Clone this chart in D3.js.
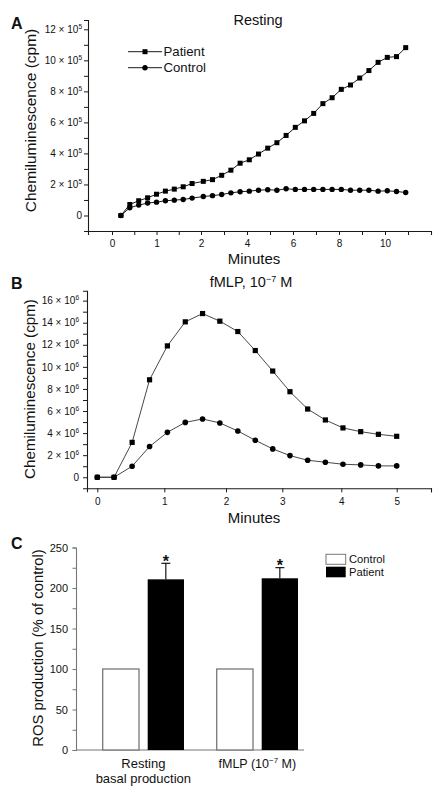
<!DOCTYPE html>
<html><head><meta charset="utf-8">
<script src="https://cdn.jsdelivr.net/npm/d3@7"></script>
<style>
body{margin:0;background:#fff}
svg{display:block}
text{font-family:"Liberation Sans",Arial,Helvetica,sans-serif;fill:#111}
</style>
</head><body>
<svg id="chart" width="443" height="795"></svg>
<script>
// ---------- Panel A: Resting (units of 10^5 cpm) ----------
const restTimes = [0.2,0.4,0.6,0.8,1.0,1.2,1.4,1.6,1.8,2.1,2.5,2.9,3.3,3.7,4.1,4.5,4.9,5.3,5.7,6.1,6.5,6.9,7.3,7.7,8.1,8.5,8.9,9.3,9.7,10.1,10.5,10.9];
const restPatient = [0,0.71,0.95,1.14,1.37,1.57,1.70,1.85,2.06,2.20,2.31,2.59,2.92,3.37,3.59,3.96,4.34,4.69,5.16,5.68,6.10,6.58,7.21,7.59,8.13,8.41,8.86,9.34,9.87,10.19,10.24,10.82];
const restControl = [0,0.50,0.67,0.80,0.86,0.95,0.99,1.03,1.12,1.22,1.28,1.35,1.46,1.53,1.57,1.63,1.66,1.63,1.72,1.68,1.68,1.68,1.68,1.68,1.68,1.63,1.63,1.63,1.57,1.59,1.55,1.48];
const restXTicks = [-0.5,0,0.5,1,1.5,2,3,4,5,6,7,8,9,10,11,12];
const restXLabels = [0,1,2,4,6,8,10];
const restYTicks = [1,2,3,4,5,6,7,8,9,10,11,12,0];
const restYLabels = [0,2,4,6,8,10,12];

// ---------- Panel B: fMLP (units of 10^6 cpm) ----------
const fmlpTimes = [0,0.25,0.52,0.78,1.05,1.34,1.62,1.90,2.21,2.52,2.83,3.13,3.43,3.73,4.03,4.35,4.67,5.0];
const fmlpPatient = [0,0,3.16,8.83,11.9,14.08,14.83,14.14,13.2,11.48,9.62,7.75,6.18,5.19,4.47,4.13,3.89,3.71];
const fmlpControl = [0,0,1.0,2.78,4.07,4.97,5.28,4.92,4.19,3.35,2.57,1.96,1.54,1.36,1.18,1.12,1.03,1.03];
const fmlpXTicks = [0,1,2,3,4,5,5.62];
const fmlpXLabels = [0,1,2,3,4,5];
const fmlpYTicks = [1,2,3,4,5,6,7,8,9,10,11,12,13,14,15,16,0];
const fmlpYLabels = [0,2,4,6,8,10,12,14,16];

// ---------- Panel C: ROS production (% of control) ----------
const rosGroups = ["resting","fmlp"];
const rosControl = [100,100];
const rosPatient = [210.7,212.0];
const rosPatientErr = [19.8,13.1];
const rosYTicks = [0,25,50,75,100,125,150,175,200,225,250];
const rosYLabels = [0,50,100,150,200,250];

const svg = d3.select("#chart");
const ink = "#1a1a1a";

function sciFormat(sel, exp, labels) {
  sel.each(function(d){
    const t = d3.select(this);
    t.text(null);
    if (!labels.includes(d)) return;
    if (d === 0) { t.text("0"); return; }
    t.append("tspan").text(d + " \u00d7 10");
    t.append("tspan").attr("dy", -4).attr("font-size", 6.5).text(exp);
  });
}
function styleAxis(g, color) {
  g.select(".domain").attr("stroke", color).attr("stroke-width", 1.1);
  g.selectAll(".tick line").attr("stroke", color).attr("stroke-width", 1);
  g.selectAll(".tick text").attr("fill", "#1a1a1a");
}

// ===== Panel A =====
const xA = d3.scaleLinear().domain([-0.5,0,2,10,12]).range([88,112,201,385,431]);
const yA = d3.scaleLinear().domain([-1,12.6]).range([231,20]);

const gAx = svg.append("g").attr("transform","translate(0,231)")
  .call(d3.axisBottom(xA).tickValues(restXTicks).tickSize(4).tickPadding(5)
    .tickFormat(d => restXLabels.includes(d) ? d : ""))
  .attr("font-size", 10);
styleAxis(gAx, ink);
const gAy = svg.append("g").attr("transform","translate(88,0)")
  .call(d3.axisLeft(yA).tickValues(restYTicks).tickSize(4).tickPadding(2))
  .attr("font-size", 10);
gAy.selectAll(".tick text").call(sciFormat, "5", restYLabels);
styleAxis(gAy, ink);

const lineA = (vals) => d3.line().x((d,i)=>xA(restTimes[i])).y(d=>yA(d))(vals);
svg.append("path").attr("d", lineA(restPatient)).attr("fill","none").attr("stroke",ink).attr("stroke-width",1);
svg.append("path").attr("d", lineA(restControl)).attr("fill","none").attr("stroke",ink).attr("stroke-width",1);
svg.append("g").selectAll("circle").data(restControl).join("circle")
  .attr("cx",(d,i)=>xA(restTimes[i])).attr("cy",d=>yA(d)).attr("r",2.7).attr("fill","#000");
svg.append("g").selectAll("rect").data(restPatient).join("rect")
  .attr("x",(d,i)=>xA(restTimes[i])-2.5).attr("y",d=>yA(d)-2.5).attr("width",5).attr("height",5).attr("fill","#000");

// Legend A
const legA = svg.append("g");
legA.append("line").attr("x1",128).attr("x2",162).attr("y1",51.7).attr("y2",51.7).attr("stroke",ink);
legA.append("rect").attr("x",142.5).attr("y",49.2).attr("width",5).attr("height",5).attr("fill","#000");
legA.append("text").attr("x",163.5).attr("y",56.3).attr("font-size",13.2).text("Patient");
legA.append("line").attr("x1",128).attr("x2",162).attr("y1",67.7).attr("y2",67.7).attr("stroke",ink);
legA.append("circle").attr("cx",145).attr("cy",67.7).attr("r",2.7).attr("fill","#000");
legA.append("text").attr("x",163.5).attr("y",72.3).attr("font-size",13.2).text("Control");

svg.append("text").attr("x",258).attr("y",25).attr("text-anchor","middle").attr("font-size",14.5).text("Resting");
svg.append("text").attr("x",254).attr("y",263.5).attr("text-anchor","middle").attr("font-size",15).text("Minutes");
svg.append("text").attr("transform","translate(36,120.5) rotate(-90)").attr("text-anchor","middle").attr("font-size",15.5).text("Chemiluminescence (cpm)");
svg.append("text").attr("x",11).attr("y",28.5).attr("font-size",16).attr("font-weight","900").text("A");

// ===== Panel B =====
const xB = d3.scaleLinear().domain([-0.17,0,1,2,3,4,5,5.62]).range([87,97.3,164.3,226,282.3,341.3,396.7,431]);
const yB = d3.scaleLinear().domain([-1,16.9]).range([488.3,290.7]);

const gBx = svg.append("g").attr("transform","translate(0,488.3)")
  .call(d3.axisBottom(xB).tickValues(fmlpXTicks).tickSize(4).tickPadding(5.5)
    .tickFormat(d => fmlpXLabels.includes(d) ? d : ""))
  .attr("font-size", 10);
styleAxis(gBx, ink);
const gBy = svg.append("g").attr("transform","translate(87,0)")
  .call(d3.axisLeft(yB).tickValues(fmlpYTicks).tickSize(4).tickPadding(4))
  .attr("font-size", 10);
gBy.selectAll(".tick text").call(sciFormat, "6", fmlpYLabels);
styleAxis(gBy, ink);

const lineB = (vals) => d3.line().x((d,i)=>xB(fmlpTimes[i])).y(d=>yB(d))(vals);
svg.append("path").attr("d", lineB(fmlpPatient)).attr("fill","none").attr("stroke","#333").attr("stroke-width",0.9);
svg.append("path").attr("d", lineB(fmlpControl)).attr("fill","none").attr("stroke","#333").attr("stroke-width",0.9);
svg.append("g").selectAll("circle").data(fmlpControl).join("circle")
  .attr("cx",(d,i)=>xB(fmlpTimes[i])).attr("cy",d=>yB(d)).attr("r",2.8).attr("fill","#000");
svg.append("g").selectAll("rect").data(fmlpPatient).join("rect")
  .attr("x",(d,i)=>xB(fmlpTimes[i])-2.6).attr("y",d=>yB(d)-2.6).attr("width",5.2).attr("height",5.2).attr("fill","#000");

const tB = svg.append("text").attr("x",251).attr("y",286.5).attr("text-anchor","middle").attr("font-size",14.5);
tB.append("tspan").text("fMLP, 10");
tB.append("tspan").attr("dy",-5).attr("font-size",9).text("\u22127");
tB.append("tspan").attr("dy",5).text(" M");
svg.append("text").attr("x",254).attr("y",522.5).attr("text-anchor","middle").attr("font-size",15).text("Minutes");
svg.append("text").attr("transform","translate(35,389) rotate(-90)").attr("text-anchor","middle").attr("font-size",15.2).text("Chemiluminescence (cpm)");
svg.append("text").attr("x",11).attr("y",288.5).attr("font-size",16).attr("font-weight","900").text("B");

// ===== Panel C =====
const grey = "#777";
const yC = d3.scaleLinear().domain([0,250]).range([750,547.5]);
const x0 = d3.scaleBand().domain(rosGroups).range([102.7,298]).paddingInner(0.287).paddingOuter(0);
const x1 = d3.scaleBand().domain(["Control","Patient"]).range([0,x0.bandwidth()]).paddingInner(0.193).paddingOuter(0);

const gCy = svg.append("g").attr("transform","translate(76,0)")
  .call(d3.axisLeft(yC).tickValues(rosYTicks).tickSize(3.5).tickPadding(4.5)
    .tickFormat(d => rosYLabels.includes(d) ? d : ""))
  .attr("font-size", 11);
styleAxis(gCy, grey);
svg.append("line").attr("x1",76).attr("x2",304).attr("y1",750).attr("y2",750).attr("stroke",grey).attr("stroke-width",1.2);

const gBars = svg.append("g");
gBars.selectAll("rect.ctrl").data(rosControl).join("rect").attr("class","ctrl")
  .attr("x",(d,i)=>x0(rosGroups[i])+x1("Control")).attr("y",d=>yC(d))
  .attr("width",x1.bandwidth()).attr("height",d=>yC(0)-yC(d))
  .attr("fill","#fff").attr("stroke",grey).attr("stroke-width",1.3);
gBars.selectAll("rect.pat").data(rosPatient).join("rect").attr("class","pat")
  .attr("x",(d,i)=>x0(rosGroups[i])+x1("Patient")).attr("y",d=>yC(d))
  .attr("width",x1.bandwidth()).attr("height",d=>yC(0)-yC(d)).attr("fill","#000");
rosPatient.forEach((v,i)=>{
  const cx = x0(rosGroups[i]) + x1("Patient") + x1.bandwidth()/2;
  const top = yC(v + rosPatientErr[i]);
  gBars.append("line").attr("x1",cx).attr("x2",cx).attr("y1",yC(v)).attr("y2",top).attr("stroke","#000").attr("stroke-width",1.1);
  gBars.append("line").attr("x1",cx-4.5).attr("x2",cx+4.5).attr("y1",top).attr("y2",top).attr("stroke","#000").attr("stroke-width",1.1);
  gBars.append("text").attr("x",cx).attr("y",top+3.5).attr("text-anchor","middle").attr("font-size",16).attr("font-weight","bold").text("*");
});

// Group labels
const c0 = x0("resting") + x0.bandwidth()/2;
const c1 = x0("fmlp") + x0.bandwidth()/2;
svg.append("text").attr("x",c0).attr("y",767.8).attr("text-anchor","middle").attr("font-size",13).text("Resting");
svg.append("text").attr("x",c0).attr("y",782.8).attr("text-anchor","middle").attr("font-size",13).text("basal production");
const tC = svg.append("text").attr("x",c1).attr("y",767.8).attr("text-anchor","middle").attr("font-size",12.5);
tC.append("tspan").text("fMLP (10");
tC.append("tspan").attr("dy",-4.5).attr("font-size",8).text("\u22127");
tC.append("tspan").attr("dy",4.5).text(" M)");

// Legend C
svg.append("rect").attr("x",326).attr("y",554.3).attr("width",19.7).attr("height",10).attr("fill","#fff").attr("stroke",grey).attr("stroke-width",1);
svg.append("rect").attr("x",326).attr("y",566.7).attr("width",19.7).attr("height",10.6).attr("fill","#000");
svg.append("text").attr("x",349).attr("y",563.3).attr("font-size",11.2).text("Control");
svg.append("text").attr("x",349).attr("y",576.3).attr("font-size",11.2).text("Patient");

svg.append("text").attr("transform","translate(43,648) rotate(-90)").attr("text-anchor","middle").attr("font-size",14.8).text("ROS production (% of control)");
svg.append("text").attr("x",11).attr("y",548.5).attr("font-size",16).attr("font-weight","900").text("C");
</script>
</body></html>
